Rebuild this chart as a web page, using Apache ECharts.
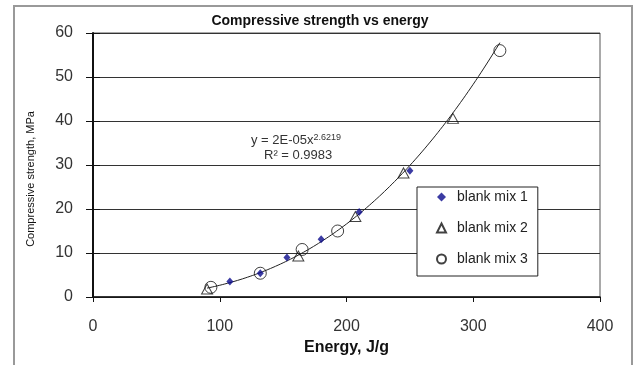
<!DOCTYPE html>
<html>
<head>
<meta charset="utf-8">
<script src="https://cdn.jsdelivr.net/npm/echarts@6/dist/echarts.min.js"></script>
<style>
  html, body { margin: 0; padding: 0; background: #fff; }
  #chart { width: 634px; height: 365px; }
</style>
</head>
<body>
<div id="chart"></div>
<script>
// values: [energy J/g, strength MPa]
const mix1 = [[108, 3.5], [132, 5.4], [153, 9.0], [180, 13.1], [210, 19.3], [250, 28.7]];
const mix2 = [[90, 1.8], [162, 9.3], [207, 18.3], [245, 28.2], [284, 40.6]];
const mix3 = [[93, 2.2], [132, 5.4], [165, 10.8], [193, 15.0], [321, 56.0]];
const seriesNames = ['blank mix 1', 'blank mix 2', 'blank mix 3'];
const xTicks = [0, 100, 200, 300, 400];
const yTicks = [0, 10, 20, 30, 40, 50, 60];

// power trendline y = a*x^b fitted (log-log least squares) on all points, like Excel does
function powerFit(points) {
  const n = points.length;
  let sx = 0, sy = 0, sxx = 0, sxy = 0;
  points.forEach(p => {
    const lx = Math.log(p[0]), ly = Math.log(p[1]);
    sx += lx; sy += ly; sxx += lx * lx; sxy += lx * ly;
  });
  const b = (n * sxy - sx * sy) / (n * sxx - sx * sx);
  const a = Math.exp((sy - b * sx) / n);
  return {a, b};
}
const allPts = mix1.concat(mix2, mix3);
const fit = powerFit(allPts);
const xs = allPts.map(p => p[0]);
const xMin = Math.min(...xs), xMax = Math.max(...xs);
const trend = [];
for (let x = xMin; x <= xMax; x += 2) trend.push([x, fit.a * Math.pow(x, fit.b)]);
trend.push([xMax, fit.a * Math.pow(xMax, fit.b)]);

const chart = echarts.init(document.getElementById('chart'));
const font = 'Liberation Sans, Arial, sans-serif';

const yBase = {
  type: 'value', min: 0, max: 60, interval: 10, position: 'left'
};

chart.setOption({
  backgroundColor: '#fff',
  animation: false,
  textStyle: {fontFamily: font},
  title: {
    text: 'Compressive strength vs energy',
    left: 315, top: 9, textAlign: 'center',
    textStyle: {fontSize: 14, fontWeight: 'bold', color: '#111', fontFamily: font}
  },
  grid: {
    left: 93, right: 34, top: 33, bottom: 68,
    show: true, borderColor: '#555', borderWidth: 1
  },
  legend: {
    orient: 'vertical',
    left: 417, top: 187,
    padding: [3, 10, 10, 19],
    itemGap: 17,
    itemWidth: 9, itemHeight: 9,
    backgroundColor: '#fff',
    borderColor: '#222', borderWidth: 1,
    textStyle: {fontSize: 14, color: '#222', fontFamily: font, padding: [0, 0, 0, 6]},
    data: seriesNames
  },
  xAxis: {
    type: 'value', min: 0, max: 400, interval: 100,
    name: 'Energy, J/g', nameLocation: 'middle', nameGap: 38,
    nameTextStyle: {fontSize: 16, fontWeight: 'bold', color: '#111', fontFamily: font},
    axisLine: {show: true, onZero: false, lineStyle: {color: '#111', width: 1.5}},
    axisTick: {show: true, length: 5, lineStyle: {color: '#111'}},
    axisLabel: {fontSize: 16, color: '#333', margin: 22,
      formatter: v => xTicks.includes(v) ? String(v) : ''},
    splitLine: {show: false}
  },
  yAxis: [
    Object.assign({}, yBase, {
      name: 'Compressive strength, MPa', nameLocation: 'middle', nameGap: 57,
      nameTextStyle: {fontSize: 11, color: '#111', fontFamily: font, padding: [0, 0, 0, -28]},
      axisLine: {show: true, onZero: false, lineStyle: {color: '#111', width: 2}},
      axisTick: {show: true, length: 7, lineStyle: {color: '#111'}},
      axisLabel: {fontSize: 16, color: '#333', margin: 20,
        formatter: v => yTicks.includes(v) ? String(v) : ''},
      splitLine: {show: true, lineStyle: {color: '#333', width: 1}}
    }),
    Object.assign({}, yBase, {
      axisLine: {show: false},
      axisTick: {show: true, inside: true, length: 7, lineStyle: {color: '#111'}},
      axisLabel: {show: false},
      splitLine: {show: false}
    })
  ],
  graphic: [
    {
      type: 'rect', silent: true, z: -1,
      shape: {x: 14, y: 6, width: 618, height: 370},
      style: {fill: 'none', stroke: '#999', lineWidth: 2}
    },
    {
      type: 'text', left: 251, top: 133, silent: true,
      style: {
        text: '{n|y = 2E-05x}{s|2.6219}',
        rich: {
          n: {fontSize: 13, fill: '#333', fontFamily: font},
          s: {fontSize: 9, fill: '#333', fontFamily: font, verticalAlign: 'top', padding: [0, 0, 6, 0]}
        }
      }
    },
    {
      type: 'text', left: 264, top: 149, silent: true,
      style: {text: 'R² = 0.9983', fontSize: 13, fill: '#333', fontFamily: font}
    }
  ],
  series: [
    {
      name: 'trend', type: 'line', data: trend, showSymbol: false, smooth: false,
      lineStyle: {color: '#222', width: 1}, z: 2, legendHoverLink: false
    },
    {
      name: seriesNames[0], type: 'scatter', data: mix1,
      symbol: 'diamond', symbolSize: [7, 8],
      itemStyle: {color: '#0a0a8c'}, z: 4
    },
    {
      name: seriesNames[1], type: 'scatter', data: mix2,
      symbol: 'triangle', symbolSize: [11, 10],
      itemStyle: {color: 'rgba(255,255,255,0)', borderColor: '#111', borderWidth: 1}, z: 3
    },
    {
      name: seriesNames[2], type: 'scatter', data: mix3,
      symbol: 'circle', symbolSize: 12,
      itemStyle: {color: 'rgba(255,255,255,0)', borderColor: '#111', borderWidth: 1}, z: 3
    }
  ]
});
</script>
</body>
</html>
